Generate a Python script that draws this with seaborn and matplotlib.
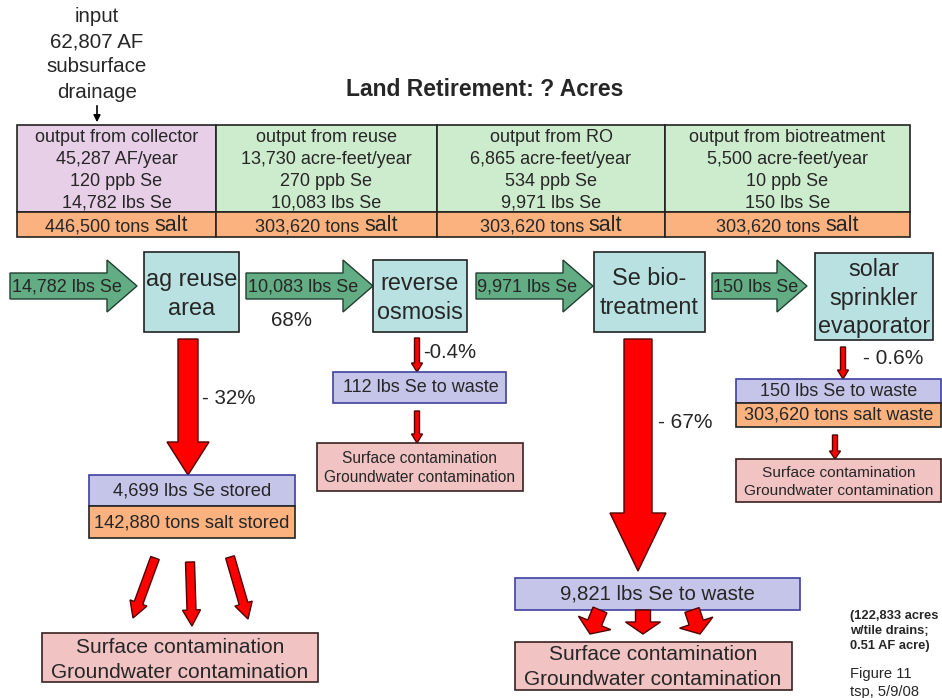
import matplotlib
matplotlib.use("Agg")
from matplotlib import pyplot as plt
from matplotlib.patches import Rectangle
import seaborn as sns

# ---- content of the diagram ----
input_lines = ["input", "62,807 AF", "subsurface", "drainage"]
title = "Land Retirement: ? Acres"
stage_titles = ["output from collector", "output from reuse",
                "output from RO", "output from biotreatment"]
flow_volumes = ["45,287 AF/year", "13,730 acre-feet/year",
                "6,865 acre-feet/year", "5,500 acre-feet/year"]
se_ppb = [120, 270, 534, 10]
se_lbs = [14782, 10083, 9971, 150]
salt_tons = [446500, 303620, 303620, 303620]
processes = ["ag reuse\narea", "reverse\nosmosis", "Se bio-\ntreatment",
             "solar\nsprinkler\nevaporator"]
pass_pct = "68%"
loss_pct = ["- 32%", "-0.4%", "- 67%", "- 0.6%"]
se_removed = [4699, 112, 9821, 150]
salt_removed = [142880, None, None, 303620]
removed_suffix = ["stored", "to waste", "to waste", "to waste"]
salt_suffix = ["stored", None, None, "waste"]
contamination = "Surface contamination\nGroundwater contamination"
note = "(122,833 acres\nw/tile drains;\n0.51 AF acre)"
credit = "Figure 11\ntsp, 5/9/08"

# ---- styles ----
sns.set_theme(style="white")
plt.rcParams['font.family'] = ['Liberation Sans', 'DejaVu Sans']

PINK = "#E8CFE8"
GREEN = "#CDEBCD"
ORANGE = "#FBB27F"
CYAN = "#B9E1E1"
LAVENDER = "#C5C5E9"
ROSE = "#F1C3C3"
RED = "#FF0000"
ARROW_GREEN = "#62AD84"

fig = plt.figure(figsize=(9.42, 6.98), dpi=100)
ax = fig.add_axes([0, 0, 1, 1])
ax.set_xlim(0, 942)
ax.set_ylim(698, 0)
ax.axis("off")


def box(x0, y0, x1, y1, fc, ec="#222222", lw=1.2):
    ax.add_patch(Rectangle((x0, y0), x1 - x0, y1 - y0, fc=fc, ec=ec, lw=lw))


def block_arrow(x0, y0, x1, y1, w, hw, hl, fc=RED, ec="#500000", lw=1.0):
    ax.arrow(x0, y0, x1 - x0, y1 - y0, width=w, head_width=hw, head_length=hl,
             length_includes_head=True, fc=fc, ec=ec, lw=lw)


# input text + small arrow
for i, line in enumerate(input_lines):
    ax.text(97, 16 + 25.5 * i, line, ha="center", va="center", size=14.8)
ax.annotate("", xy=(97, 125), xytext=(97, 103),
            arrowprops=dict(arrowstyle="-|>", color="black", lw=1.2,
                            mutation_scale=10))

ax.text(485, 90, title, ha="center", va="center", size=16.5, weight="bold")

# ---- top table ----
col_edges = [17, 216, 437, 665, 910]
col_colors = [PINK, GREEN, GREEN, GREEN]
row_top, row_mid, row_bot = 125, 212, 237
line_y = [137, 159, 182, 203]
fig.canvas.draw()
renderer = fig.canvas.get_renderer()
for i in range(4):
    xa, xb = col_edges[i], col_edges[i + 1]
    xc = (xa + xb) / 2
    box(xa, row_top, xb, row_mid, col_colors[i])
    box(xa, row_mid, xb, row_bot, ORANGE)
    lines = [stage_titles[i], flow_volumes[i], f"{se_ppb[i]} ppb Se",
             f"{se_lbs[i]:,} lbs Se"]
    for y, s in zip(line_y, lines):
        ax.text(xc, y, s, ha="center", va="center", size=13)
    # salt row: "salt" in slightly larger type
    t1 = ax.text(0, 231, f"{salt_tons[i]:,} tons", ha="left", va="baseline", size=13)
    t2 = ax.text(0, 231, "salt", ha="left", va="baseline", size=15.5)
    w1 = t1.get_window_extent(renderer).width
    w2 = t2.get_window_extent(renderer).width
    gap = 0.278 * 13 * 100 / 72
    start = xc - (w1 + gap + w2) / 2
    t1.set_x(start)
    t2.set_x(start + w1 + gap)

# ---- process row ----
arrow_spans = [(10, 137), (246, 373), (476, 593), (712, 807)]
arrow_text_x = [67, 303, 527, 756]
for (xa, xb), tx, v in zip(arrow_spans, arrow_text_x, se_lbs):
    block_arrow(xa, 286, xb, 286, 26, 52, 30, fc=ARROW_GREEN, ec="#1F3F2F")
    ax.text(tx, 287, f"{v:,} lbs Se", ha="center", va="center", size=13)

proc_boxes = [(144, 252, 239, 332), (373, 260, 467, 332),
              (594, 252, 705, 332), (815, 253, 933, 340)]
proc_text_y = [294, 298, 293, 298]
for (xa, ya, xb, yb), ty, name in zip(proc_boxes, proc_text_y, processes):
    box(xa, ya, xb, yb, CYAN)
    ax.text((xa + xb) / 2, ty, name, ha="center", va="center", size=16.8,
            linespacing=1.28)

ax.text(292, 320, pass_pct, ha="center", va="center", size=14.8)

# ---- ag reuse branch ----
block_arrow(188, 339, 188, 475, 20, 42, 33)
ax.text(202, 398, loss_pct[0], ha="left", va="center", size=14.8)
box(89, 475, 295, 506, LAVENDER, ec="#4040A0")
box(89, 506, 295, 538, ORANGE)
ax.text(192, 491, f"{se_removed[0]:,} lbs Se {removed_suffix[0]}",
        ha="center", va="center", size=13.2)
ax.text(192, 523, f"{salt_removed[0]:,} tons salt {salt_suffix[0]}",
        ha="center", va="center", size=13.2)
for (xa, ya), (xb, yb) in [((155, 558), (133, 618)), ((190, 562), (192, 626)),
                           ((230, 557), (248, 619))]:
    block_arrow(xa, ya, xb, yb, 9, 18, 16)
box(42, 633, 318, 682, ROSE, ec="#3A2020")
ax.text(180, 660, contamination, ha="center", va="center", size=15,
        linespacing=1.35)

# ---- reverse osmosis branch ----
block_arrow(417, 338, 417, 372, 5, 11, 9)
ax.text(423, 352, loss_pct[1], ha="left", va="center", size=14.6)
box(333, 372, 506, 403, LAVENDER, ec="#4040A0")
ax.text(421, 388, f"{se_removed[1]:,} lbs Se {removed_suffix[1]}",
        ha="center", va="center", size=13)
block_arrow(417, 411, 417, 443, 5, 11, 9)
box(317, 443, 523, 491, ROSE, ec="#3A2020")
ax.text(420, 468, contamination, ha="center", va="center", size=11.2,
        linespacing=1.3)

# ---- Se bio-treatment branch ----
block_arrow(638, 339, 638, 571, 28, 56, 58)
ax.text(658, 423, loss_pct[2], ha="left", va="center", size=15)
box(515, 578, 800, 610, LAVENDER, ec="#4040A0")
ax.text(657, 594, f"{se_removed[2]:,} lbs Se {removed_suffix[2]}",
        ha="center", va="center", size=14.7)
for (xa, ya), (xb, yb) in [((600, 610), (590, 634)), ((643, 610), (643, 634)),
                           ((692, 610), (700, 634))]:
    block_arrow(xa, ya, xb, yb, 15, 35, 12)
box(515, 642, 792, 690, ROSE, ec="#3A2020")
ax.text(653, 667, contamination, ha="center", va="center", size=15,
        linespacing=1.35)

# ---- solar evaporator branch ----
block_arrow(843, 347, 843, 379, 5, 11, 9)
ax.text(863, 359, loss_pct[3], ha="left", va="center", size=15)
box(736, 379, 941, 403, LAVENDER, ec="#4040A0")
box(736, 403, 941, 427, ORANGE)
ax.text(839, 392, f"{se_removed[3]:,} lbs Se {removed_suffix[3]}",
        ha="center", va="center", size=13)
ax.text(839, 415, f"{salt_removed[3]:,} tons salt {salt_suffix[3]}",
        ha="center", va="center", size=13)
block_arrow(835, 435, 835, 459, 5, 11, 8)
box(736, 459, 941, 502, ROSE, ec="#3A2020")
ax.text(839, 482, contamination, ha="center", va="center", size=11.1,
        linespacing=1.3)

# ---- notes ----
ax.text(850, 631, note, ha="left", va="center", size=9.3, weight="bold",
        linespacing=1.35)
ax.text(850, 683, credit, ha="left", va="center", size=10.6, linespacing=1.45)

fig.savefig("out.png", dpi=100)
